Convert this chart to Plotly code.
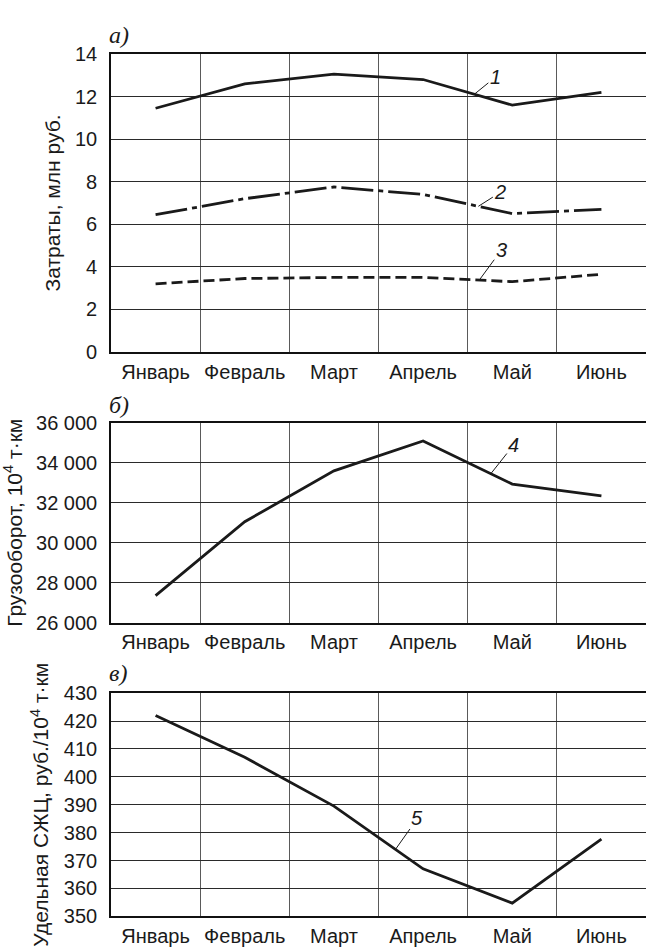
import numpy as np
import plotly.graph_objects as go
from plotly.subplots import make_subplots

months = ["Январь", "Февраль", "Март", "Апрель", "Май", "Июнь"]

# panel а) costs, mln rub.
costs_total = [11.45, 12.6, 13.05, 12.8, 11.6, 12.2]      # 1
costs_mid = [6.45, 7.2, 7.75, 7.4, 6.5, 6.7]             # 2
costs_low = [3.2, 3.45, 3.5, 3.5, 3.3, 3.65]             # 3
# panel б) freight turnover, 10^4 t·km
turnover = [27350, 31050, 33600, 35100, 32940, 32350]    # 4
# panel в) specific cost, rub./10^4 t·km
unit_cost = [422, 407, 389.5, 367, 354.7, 377.7]         # 5

W, H = 646, 952
L = 111
# plot areas in pixels (top, bottom)
panels_px = [(44, 349), (421.7, 626), (698.3, 926.7)]

fig = make_subplots(rows=3, cols=1)
xs = list(range(len(months)))
FONT = "Liberation Sans, Arial, sans-serif"
INK = "#1a1a1a"

def add(row, vals, dash):
    fig.add_trace(go.Scatter(x=xs, y=vals, mode="lines",
                             line=dict(color=INK, width=2.8, dash=dash, shape="linear"),
                             showlegend=False, hoverinfo="skip"), row=row, col=1)

add(1, costs_total, "solid")
add(1, costs_mid, "32px,5px,5px,5px")
add(1, costs_low, "11px,5px")
add(2, turnover, "solid")
add(3, unit_cost, "solid")

yspecs = [
    dict(range=[0, 14], dtick=2, title="Затраты, млн руб."),
    dict(range=[26000, 36000], dtick=2000, title="Грузооборот, 10<sup>4</sup> т·км", tickformat=",d"),
    dict(range=[350, 430], dtick=10, title="Удельная СЖЦ, руб./10<sup>4</sup> т·км"),
]

for i, ((top, bot), ys) in enumerate(zip(panels_px, yspecs)):
    r = i + 1
    dom = [1 - bot / H, 1 - top / H]
    fig.update_xaxes(row=r, col=1, domain=[0, 1], range=[-0.5, 5.5],
                     tickmode="array", tickvals=xs, ticktext=months,
                     showgrid=False, ticks="", zeroline=False,
                     showline=True, linecolor="#111", linewidth=1.6, mirror=True,
                     tickfont=dict(family=FONT, size=20, color=INK),
                     ticklabelstandoff=1,
                     minor=dict(tick0=0.5, dtick=1, showgrid=True,
                                gridcolor="#5a5a5a", gridwidth=1.1, ticks=""))
    fig.update_yaxes(row=r, col=1, domain=dom, range=ys["range"], dtick=ys["dtick"],
                     tickmode="linear", tick0=ys["range"][0],
                     showgrid=True, gridcolor="#2a2a2a", gridwidth=1,
                     zeroline=False, ticks="",
                     showline=True, linecolor="#111", linewidth=1.6, mirror=False,
                     tickformat=ys.get("tickformat", ""),
                     tickfont=dict(family=FONT, size=20, color=INK),
                     ticklabelstandoff=8,
                     title=dict(text=ys["title"], standoff=9,
                                font=dict(family=FONT, size=21, color=INK)),
                     automargin=True)

# curve labels with leader lines; tip placed on the curve at fractional x
labels = [
    (1, "1", costs_total, 3.575, 21, -17),
    (1, "2", costs_mid, 3.62, 22, -14),
    (1, "3", costs_low, 3.63, 22, -30),
    (2, "4", turnover, 3.76, 23, -29),
    (3, "5", unit_cost, 2.69, 22, -31),
]
for row, txt, vals, xf, ax, ay in labels:
    yv = float(np.interp(xf, xs, vals))
    xref = "x" if row == 1 else f"x{row}"
    yref = "y" if row == 1 else f"y{row}"
    fig.add_annotation(x=xf, y=yv, xref=xref, yref=yref, text=f"<i>{txt}</i>",
                       showarrow=True, arrowhead=0, arrowwidth=1, arrowcolor=INK,
                       ax=ax, ay=ay, standoff=0,
                       font=dict(family=FONT, size=20, color=INK))

# panel letters
for letter, ypx in [("а)", 25), ("б)", 403), ("в)", 678)]:
    fig.add_annotation(x=-0.008, y=1 - ypx / H, xref="paper", yref="paper",
                       xanchor="left", yanchor="middle", showarrow=False,
                       text=f"<i>{letter}</i>",
                       font=dict(family="Liberation Serif, Times New Roman, serif", size=24, color=INK))

fig.update_layout(width=W, height=H, margin=dict(l=L, r=0, t=0, b=0),
                  plot_bgcolor="white", paper_bgcolor="white",
                  separators=", ", showlegend=False)

fig.write_html("out.html")
